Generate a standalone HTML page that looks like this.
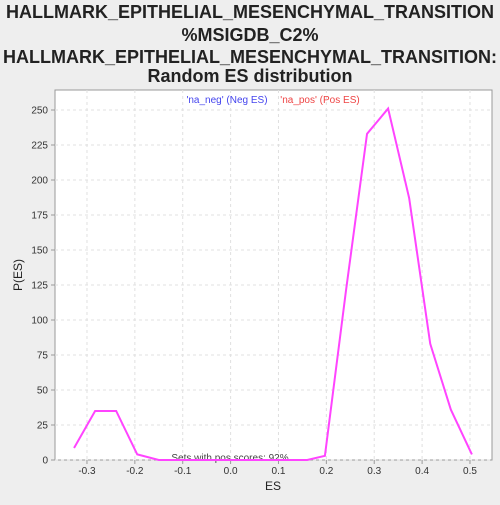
<!DOCTYPE html>
<html><head><meta charset="utf-8"><style>
body{margin:0;background:#eeeeee;width:500px;height:500px;overflow:hidden;font-family:"Liberation Sans",sans-serif;}
</style></head><body>
<svg width="500" height="500">
<text x="250" y="18" text-anchor="middle" font-size="18" font-weight="bold" fill="#222">HALLMARK_EPITHELIAL_MESENCHYMAL_TRANSITION</text>
<text x="250" y="41" text-anchor="middle" font-size="18" font-weight="bold" fill="#222">%MSIGDB_C2%</text>
<text x="250" y="63" text-anchor="middle" font-size="18" font-weight="bold" fill="#222">HALLMARK_EPITHELIAL_MESENCHYMAL_TRANSITION:</text>
<text x="250" y="82" text-anchor="middle" font-size="18" font-weight="bold" fill="#222">Random ES distribution</text>
<rect x="55" y="90" width="437" height="370" fill="#fff" stroke="#999"/>
<g id="grid"></g><g id="axes"></g>
<text x="227" y="103" text-anchor="middle" font-size="10" fill="#4444ee">'na_neg' (Neg ES)</text>
<text x="320" y="103" text-anchor="middle" font-size="10" fill="#ee4444">'na_pos' (Pos ES)</text>
<text x="230" y="461" text-anchor="middle" font-size="10" fill="#444">Sets with pos scores: 92%</text>
<text x="273" y="490" text-anchor="middle" font-size="12" fill="#222">ES</text>
<text x="22" y="275" text-anchor="middle" font-size="12" fill="#222" transform="rotate(-90 22 275)">P(ES)</text>
<polyline id="line" fill="none" stroke="#ff44ff" stroke-width="2"/>
</svg>
<script>
const esValues=[-0.327,-0.283,-0.239,-0.195,-0.150,-0.106,-0.062,-0.017,0.027,0.071,0.115,0.160,0.197,0.241,0.285,0.329,0.373,0.417,0.460,0.504];
const density=[8.6,35,35,4,0,0,0,0,0,0,0,0,3,121,233,251,187,83,36,4];
const xTicks=[-0.3,-0.2,-0.1,0.0,0.1,0.2,0.3,0.4,0.5];
const yTicks=[0,25,50,75,100,125,150,175,200,225,250];
const X=v=>230.6+v*478.75, Y=v=>460-v*1.4;
const ns="http://www.w3.org/2000/svg";
const g=document.getElementById('grid'),a=document.getElementById('axes');
function mk(tag,at,p){const e=document.createElementNS(ns,tag);for(const k in at)e.setAttribute(k,at[k]);p.appendChild(e);return e;}
xTicks.forEach(t=>{
const l=mk('line',{x1:X(t),x2:X(t),y1:90,y2:460,stroke:'#e0e0e0','stroke-dasharray':'3,3'},g);


mk('line',{x1:X(t),x2:X(t),y1:460,y2:464,stroke:'#999'},a);
const tx=mk('text',{x:X(t),y:474,'text-anchor':'middle','font-size':10,fill:'#333'},a);
tx.textContent=t.toFixed(1);


});
yTicks.forEach(t=>{
const l=mk('line',{x1:55,x2:492,y1:Y(t),y2:Y(t),stroke:'#e0e0e0','stroke-dasharray':'3,3'},g);


mk('line',{x1:51,x2:55,y1:Y(t),y2:Y(t),stroke:'#999'},a);
const tx=mk('text',{x:48,y:Y(t)+3.5,'text-anchor':'end','font-size':10,fill:'#333'},a);
tx.textContent=t;


});
document.getElementById('line').setAttribute('points',esValues.map((v,i)=>X(v)+','+Y(density[i])).join(' '));
</script>
</body></html>
